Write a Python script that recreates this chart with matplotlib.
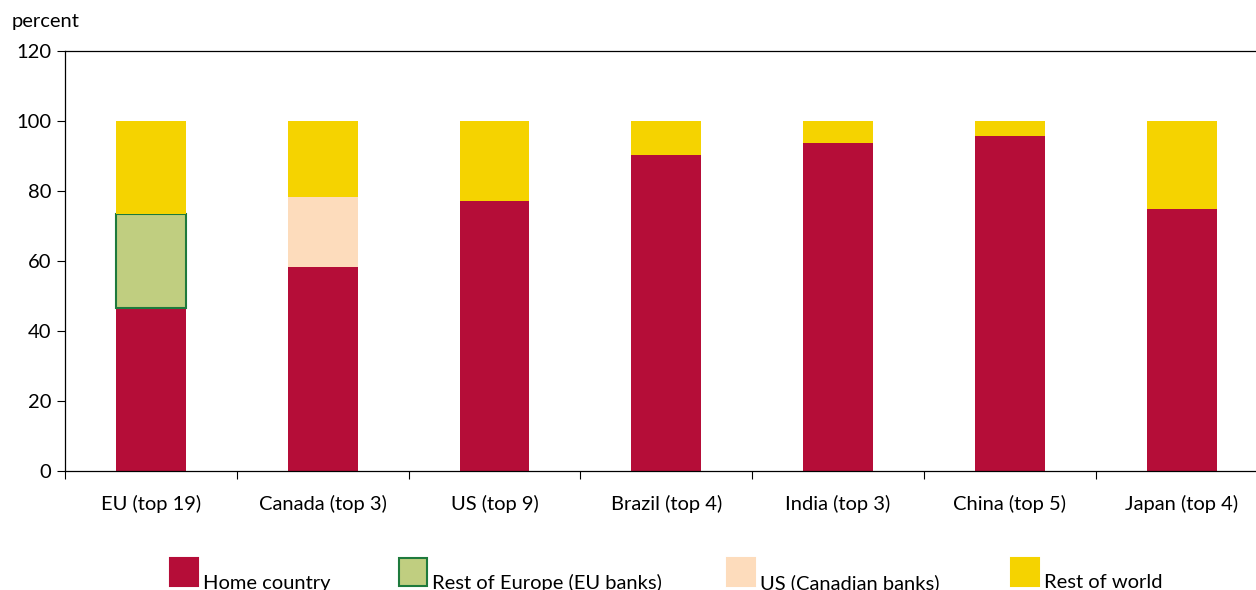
import matplotlib
matplotlib.use("Agg")
import matplotlib.pyplot as plt
from matplotlib.patches import Rectangle
import numpy as np

plt.rcParams['font.family'] = ['Lato', 'DejaVu Sans']

categories = ["EU (top 19)", "Canada (top 3)", "US (top 9)", "Brazil (top 4)",
              "India (top 3)", "China (top 5)", "Japan (top 4)"]
home_country = [46.6, 58.3, 77.1, 90.3, 93.7, 95.7, 74.9]
rest_of_europe = [26.8, 0, 0, 0, 0, 0, 0]
us_canadian = [0, 20.1, 0, 0, 0, 0, 0]
rest_of_world = [26.6, 21.6, 22.9, 9.7, 6.3, 4.3, 25.1]
series_names = ["Home country", "Rest of Europe (EU banks)", "US (Canadian banks)", "Rest of world"]
y_ticks = [0, 20, 40, 60, 80, 100, 120]

colors = ["#B50D38", "#C0CE80", "#FDDCBC", "#F5D300"]
edges = ["none", "#1E7A3C", "none", "none"]

FS = 14.5
W, H = 1256, 590
fig = plt.figure(figsize=(W / 100, H / 100), dpi=100)
ax = fig.add_axes([65 / W, (H - 471) / H, 7 * 171.8 / W, 420 / H])

x = np.arange(len(categories))
series = [home_country, rest_of_europe, us_canadian, rest_of_world]
bottom = np.zeros(len(categories))
for vals, c, e in zip(series, colors, edges):
    vals = np.array(vals, dtype=float)
    mask = vals > 0
    ax.bar(x[mask], vals[mask], bottom=bottom[mask], width=0.407, color=c,
           edgecolor=e, linewidth=1.5 if e != "none" else 0, zorder=2)
    bottom += vals

ax.set_xlim(-0.5, len(categories) - 0.5)
ax.set_ylim(0, 120)
ax.set_yticks(y_ticks)
ax.set_yticklabels([str(v) for v in y_ticks], fontsize=FS)
ax.set_xticks(x)
ax.set_xticklabels(categories, fontsize=FS)
ax.tick_params(axis='x', length=0, pad=17)
ax.set_xticks(np.arange(len(categories)) - 0.5, minor=True)
ax.tick_params(axis='x', which='minor', length=6, width=0.8, direction='out')
ax.tick_params(axis='y', length=6, width=0.8, direction='out', pad=4)
for s in ['left', 'top', 'bottom']:
    ax.spines[s].set_linewidth(0.9)
ax.spines['right'].set_visible(False)

fig.text(12 / W, 1 - 21 / H, "percent", fontsize=FS, va='center', ha='left')

# legend
patch_x = [170, 399, 727, 1011]
for px, name, c, e in zip(patch_x, series_names, colors, edges):
    fig.patches.append(Rectangle((px / W, (H - 586) / H), 28 / W, 28 / H,
                                 transform=fig.transFigure, facecolor=c,
                                 edgecolor=e if e != "none" else c, linewidth=1.5))
    fig.text((px + 33) / W, (H - 583) / H, name, fontsize=FS, va='center', ha='left')

fig.savefig("out.png", dpi=100)
